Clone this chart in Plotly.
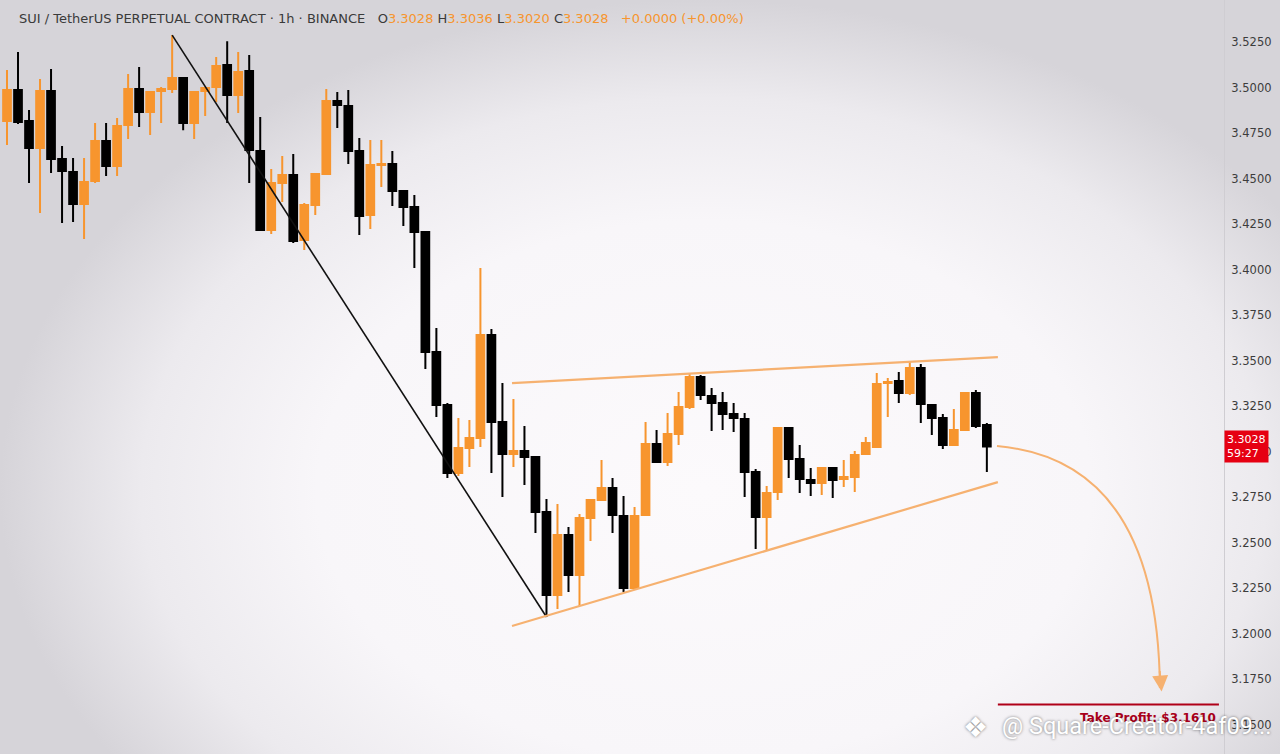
import plotly.graph_objects as go

# ---------------- data (1h candles, SUI/USDT perpetual) ----------------
open_ = [3.4816, 3.4986, 3.4816, 3.4668, 3.4981, 3.4607, 3.4536, 3.4360, 3.4486, 3.4706,
         3.4569, 3.4794, 3.4992, 3.4865, 3.4981, 3.4992, 3.5052, 3.4805, 3.4981, 3.5003,
         3.5124, 3.4959, 3.5091, 3.4651, 3.4217, 3.4475, 3.4519, 3.4162, 3.4354, 3.4525,
         3.4926, 3.4898, 3.4651, 3.4299, 3.4574, 3.4580, 3.4431, 3.4343, 3.4206, 3.3547,
         3.3255, 3.2882, 3.3020, 3.3074, 3.3640, 3.3162, 3.2986, 3.3003, 3.2970, 3.2668,
         3.2212, 3.2541, 3.2321, 3.2635, 3.2734, 3.2799, 3.2646, 3.2250, 3.2651, 3.3041,
         3.2942, 3.3096, 3.3244, 3.3409, 3.3305, 3.3266, 3.3206, 3.3179, 3.2887, 3.2640,
         3.2777, 3.3129, 3.2959, 3.2843, 3.2827, 3.2909, 3.2849, 3.2860, 3.2986, 3.3025,
         3.3376, 3.3387, 3.3321, 3.3459, 3.3255, 3.3184, 3.3036, 3.3118, 3.3321, 3.3146]
high = [3.5096, 3.5195, 3.4876, 3.5047, 3.5102, 3.4679, 3.4613, 3.4613, 3.4805, 3.4805,
        3.4832, 3.5074, 3.5113, 3.4975, 3.5003, 3.5288, 3.5058, 3.4975, 3.4997, 3.5168,
        3.5255, 3.5195, 3.5179, 3.4838, 3.4552, 3.4624, 3.4635, 3.4365, 3.4530, 3.4992,
        3.4975, 3.4986, 3.4723, 3.4712, 3.4712, 3.4651, 3.4437, 3.4409, 3.4206, 3.3679,
        3.3266, 3.3184, 3.3173, 3.4008, 3.3673, 3.3376, 3.3288, 3.3140, 3.2970, 3.2739,
        3.2712, 3.2585, 3.2657, 3.2734, 3.2953, 3.2854, 3.2755, 3.2695, 3.3162, 3.3118,
        3.3212, 3.3327, 3.3431, 3.3420, 3.3349, 3.3327, 3.3266, 3.3212, 3.2904, 3.2810,
        3.3135, 3.3129, 3.3036, 3.2909, 3.2915, 3.2909, 3.2953, 3.3003, 3.3080, 3.3431,
        3.3404, 3.3437, 3.3492, 3.3481, 3.3255, 3.3206, 3.3233, 3.3327, 3.3338, 3.3157]
low = [3.4684, 3.4799, 3.4475, 3.4310, 3.4530, 3.4255, 3.4261, 3.4168, 3.4475, 3.4514,
       3.4514, 3.4717, 3.4783, 3.4739, 3.4805, 3.4970, 3.4766, 3.4717, 3.4843, 3.4920,
       3.4805, 3.4860, 3.4475, 3.4212, 3.4195, 3.4371, 3.4146, 3.4107, 3.4299, 3.4525,
       3.4777, 3.4580, 3.4190, 3.4223, 3.4453, 3.4349, 3.4239, 3.4008, 3.3453, 3.3190,
       3.2854, 3.2865, 3.2915, 3.3025, 3.2882, 3.2750, 3.2915, 3.2816, 3.2552, 3.2091,
       3.2135, 3.2228, 3.2151, 3.2508, 3.2728, 3.2552, 3.2228, 3.2239, 3.2651, 3.2937,
       3.2920, 3.3036, 3.3233, 3.3283, 3.3113, 3.3118, 3.3107, 3.2750, 3.2464, 3.2453,
       3.2734, 3.2854, 3.2772, 3.2755, 3.2761, 3.2745, 3.2805, 3.2777, 3.2981, 3.3025,
       3.3190, 3.3266, 3.3310, 3.3157, 3.3091, 3.3014, 3.3030, 3.3113, 3.3129, 3.2887]
close = [3.4986, 3.4810, 3.4668, 3.4981, 3.4607, 3.4541, 3.4360, 3.4481, 3.4706, 3.4569,
         3.4788, 3.4992, 3.4865, 3.4975, 3.4992, 3.5052, 3.4805, 3.4975, 3.4997, 3.5118,
         3.4959, 3.5085, 3.4657, 3.4217, 3.4475, 3.4519, 3.4157, 3.4354, 3.4525, 3.4926,
         3.4904, 3.4651, 3.4294, 3.4574, 3.4580, 3.4431, 3.4343, 3.4206, 3.3547, 3.3255,
         3.2882, 3.3020, 3.3074, 3.3640, 3.3162, 3.2986, 3.3003, 3.2970, 3.2668, 3.2212,
         3.2541, 3.2321, 3.2635, 3.2734, 3.2799, 3.2651, 3.2250, 3.2646, 3.3041, 3.2942,
         3.3096, 3.3244, 3.3409, 3.3310, 3.3266, 3.3206, 3.3184, 3.2887, 3.2640, 3.2772,
         3.3129, 3.2959, 3.2849, 3.2827, 3.2909, 3.2843, 3.2860, 3.2981, 3.3047, 3.3371,
         3.3382, 3.3321, 3.3459, 3.3261, 3.3184, 3.3036, 3.3118, 3.3321, 3.3140, 3.3028]
candle_index = list(range(len(close)))

y_ticks = [3.1500, 3.1750, 3.2000, 3.2250, 3.2500, 3.2750, 3.3000, 3.3250,
           3.3500, 3.3750, 3.4000, 3.4250, 3.4500, 3.4750, 3.5000, 3.5250]

# drawing levels (price / candle-index space)
down_trend = [(15, 3.5288), (49, 3.2091)]
wedge_top = [(45.87, 3.3376), (90.0, 3.3519)]
wedge_bottom = [(45.87, 3.2041), (90.0, 3.2832)]
take_profit = 3.1610
last_price = 3.3028
timer = "59:27"

ORANGE = "#f7952e"
LINE_ORANGE = "#f6b170"
X_RANGE = [-0.636, 110.54]
Y_RANGE = [3.1338, 3.5481]
W, H = 1280, 754
PLOT_W = 1224

fig = go.Figure()

# background vignette over the whole page (base axes, drawn first)
fig.add_trace(go.Scatter(
    x=[0, 1.1, 1.1, 0, 0], y=[-0.3, -0.3, 1, 1, -0.3],
    xaxis="x", yaxis="y",
    mode="none", fill="toself", hoverinfo="skip", showlegend=False,
    fillgradient=dict(type="radial",
                      colorscale=[[0, "#fcfafc"], [0.55, "#f8f6f9"], [0.8, "#eceaee"], [1, "#d6d4d9"]]),
))

fig.add_trace(go.Candlestick(
    x=candle_index, open=open_, high=high, low=low, close=close,
    xaxis="x2", yaxis="y2",
    increasing=dict(line=dict(color=ORANGE, width=2), fillcolor=ORANGE),
    decreasing=dict(line=dict(color="#000000", width=2), fillcolor="#000000"),
    whiskerwidth=0, showlegend=False, hoverinfo="skip",
))

# trend lines
fig.add_shape(type="line", xref="x2", yref="y2",
              x0=down_trend[0][0], y0=down_trend[0][1], x1=down_trend[1][0], y1=down_trend[1][1],
              line=dict(color="#111111", width=1.6))
for seg in (wedge_top, wedge_bottom):
    fig.add_shape(type="line", xref="x2", yref="y2",
                  x0=seg[0][0], y0=seg[0][1], x1=seg[1][0], y1=seg[1][1],
                  line=dict(color=LINE_ORANGE, width=2.2))

# curved projection arrow
p0 = (89.92, 3.3030)
c = (104.54, 3.2953)
p2 = (104.72, 3.1701)
fig.add_shape(type="path", xref="x2", yref="y2",
              path=f"M {p0[0]},{p0[1]} Q {c[0]},{c[1]} {p2[0]},{p2[1]}",
              line=dict(color=LINE_ORANGE, width=2))
fig.add_annotation(xref="x2", yref="y2", axref="pixel", ayref="pixel",
                   x=p2[0] + 0.15, y=p2[1] - 0.002, ax=-2, ay=-22, text="", showarrow=True,
                   arrowhead=2, arrowsize=1.6, arrowwidth=2, arrowcolor=LINE_ORANGE)

# take profit
fig.add_shape(type="line", xref="x2", yref="y2", x0=90.0, x1=110.08, y0=take_profit, y1=take_profit,
              line=dict(color="#b00018", width=2.2))
fig.add_annotation(xref="x2", yref="y2", x=110.0, y=take_profit - 0.0072, xanchor="right", yanchor="middle",
                   text=f"<b>Take Profit: ${take_profit:.4f}</b>", showarrow=False,
                   font=dict(family="DejaVu Sans", size=12, color="#a8001a"))

# header
hdr_gray = "#3a3a3a"
fig.add_annotation(
    xref="paper", yref="paper", x=17 / W, y=1 - 19 / H, xanchor="left", yanchor="middle",
    showarrow=False, align="left",
    text=(f"<span style='color:{hdr_gray}'>SUI / TetherUS PERPETUAL CONTRACT · 1h · BINANCE</span>"
          f"   <span style='color:{hdr_gray}'>O</span><span style='color:{ORANGE}'>3.3028</span>"
          f" <span style='color:{hdr_gray}'>H</span><span style='color:{ORANGE}'>3.3036</span>"
          f" <span style='color:{hdr_gray}'>L</span><span style='color:{ORANGE}'>3.3020</span>"
          f" <span style='color:{hdr_gray}'>C</span><span style='color:{ORANGE}'>3.3028</span>"
          f"   <span style='color:{ORANGE}'>+0.0000 (+0.00%)</span>"),
    font=dict(family="DejaVu Sans", size=13, color=hdr_gray),
)

# last price tag
fig.add_annotation(xref="paper", yref="y2", x=PLOT_W / W, y=last_price, xanchor="left", yanchor="middle",
                   text=f"{last_price:.4f}<br>{timer}", showarrow=False, align="left",
                   bgcolor="#e60012", borderpad=2,
                   font=dict(family="DejaVu Sans", size=11, color="#ffffff"))

# watermark
fig.add_annotation(xref="paper", yref="paper", x=1273 / W, y=1 - 726 / H,
                   xanchor="right", yanchor="middle", showarrow=False,
                   text="@ Square-Creator-4af09...",
                   font=dict(family="Roboto", size=23.5, color="#ffffff",
                             shadow="0px 0px 3px rgba(0,0,0,0.55)"))
fig.add_annotation(xref="paper", yref="paper", x=975 / W, y=1 - 727 / H,
                   xanchor="center", yanchor="middle", showarrow=False, text="❖",
                   font=dict(family="DejaVu Sans", size=28, color="#ffffff",
                             shadow="0px 0px 3px rgba(0,0,0,0.55)"))

fig.update_layout(
    width=W, height=H,
    margin=dict(l=0, r=0, t=0, b=0),
    paper_bgcolor="#ebe9ed", plot_bgcolor="rgba(0,0,0,0)",
    boxgap=0.3, boxgroupgap=0,
    showlegend=False,
    xaxis=dict(range=[0, 1], domain=[0, 1], visible=False, fixedrange=True),
    yaxis=dict(range=[0, 1], domain=[0, 1], visible=False, fixedrange=True),
    xaxis2=dict(range=X_RANGE, domain=[0, PLOT_W / W], anchor="y2", visible=False,
                rangeslider=dict(visible=False), fixedrange=True),
    yaxis2=dict(range=Y_RANGE, domain=[0, 1], anchor="x2", side="right", tickvals=y_ticks,
                tickformat=".4f", showgrid=False, zeroline=False, showline=True,
                linecolor="#cfcdd2", linewidth=1, ticks="", ticklabelstandoff=4, fixedrange=True,
                tickfont=dict(family="DejaVu Sans", size=11.5, color="#3c3c3c")),
)

fig.write_html("out.html", config={"displayModeBar": False},
               post_script="document.body.style.margin='0px';document.body.style.overflow='hidden';")
